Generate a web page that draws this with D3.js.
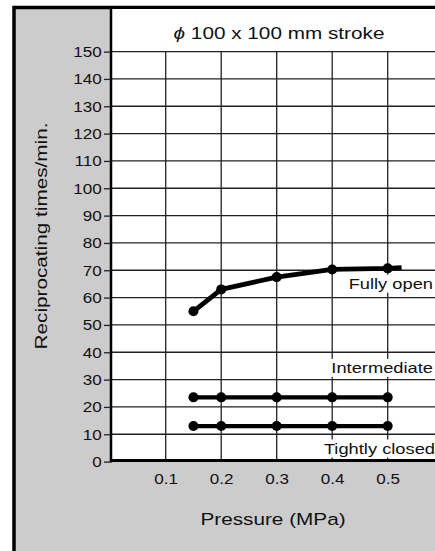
<!DOCTYPE html>
<html>
<head>
<meta charset="utf-8">
<script src="https://cdn.jsdelivr.net/npm/d3@7"></script>
<style>
	body { margin: 0; background: #fff; }
	svg text { font-family: "Liberation Sans", Arial, sans-serif; fill: #111; }
</style>
</head>
<body>
<div id="chart"></div>
<script>
// values
var pressures = [0.15, 0.2, 0.3, 0.4, 0.5];
var fullyOpen = [55, 63, 67.5, 70.3, 70.7];
var intermediate = [23.5, 23.5, 23.5, 23.5, 23.5];
var tightlyClosed = [13, 13, 13, 13, 13];
// the fully open curve runs on a little past its last point
var fullyOpenTailP = [0.525];
var fullyOpenTailV = [71];
var seriesNames = ['Fully open', 'Intermediate', 'Tightly closed'];
var xTicks = [0.1, 0.2, 0.3, 0.4, 0.5];
var yTicks = [0, 10, 20, 30, 40, 50, 60, 70, 80, 90, 100, 110, 120, 130, 140, 150];
var titleSymbol = '\u03D5';
var title = ' 100 x 100 mm stroke';
var xTitle = 'Pressure (MPa)';
var yTitle = 'Reciprocating times/min.';

var width = 435, height = 551;
var SX = 1.22; // the lettering in the picture is wide
var plot = { left: 110, top: 9, bottom: 461.5 };

var svg = d3.select('#chart').append('svg')
	.attr('width', width)
	.attr('height', height);

var xScale = d3.scaleLinear().domain([0, 0.6]).range([110.2, 443.2]);
var yScale = d3.scaleLinear().domain([0, 150]).range([461.6, 51.6]);

// grey frame
svg.append('rect')
	.attr('x', 14).attr('y', 7.5)
	.attr('width', 500).attr('height', 600)
	.attr('fill', '#cccccc')
	.attr('stroke', '#000')
	.attr('stroke-width', 3.5);

// white plot panel
svg.append('rect')
	.attr('x', plot.left).attr('y', plot.top)
	.attr('width', 400).attr('height', plot.bottom - plot.top)
	.attr('fill', '#fff');

// grid
svg.append('g')
	.selectAll('line')
	.data(yTicks.filter(function(d){ return d > 0; }))
	.enter()
	.append('line')
	.attr('x1', plot.left).attr('x2', 450)
	.attr('y1', function(d){ return yScale(d); })
	.attr('y2', function(d){ return yScale(d); })
	.attr('stroke', '#222')
	.attr('stroke-width', 1.3);
svg.append('g')
	.selectAll('line')
	.data(xScale.ticks(6).filter(function(d){ return d > 0; }))
	.enter()
	.append('line')
	.attr('x1', function(d){ return xScale(d); })
	.attr('x2', function(d){ return xScale(d); })
	.attr('y1', yScale(150)).attr('y2', yScale(0))
	.attr('stroke', '#222')
	.attr('stroke-width', 1.3);

// axes
var yAxis = d3.axisLeft(yScale).tickValues(yTicks).tickSize(6).tickSizeOuter(0);
var gy = svg.append('g')
	.attr('transform', 'translate(' + plot.left + ',0)')
	.call(yAxis);
gy.select('.domain').remove();
gy.selectAll('.tick line').attr('stroke', '#222').attr('stroke-width', 1.3);
gy.selectAll('.tick text')
	.attr('x', -8.3 / SX)
	.attr('dy', '0.36em')
	.attr('transform', 'scale(' + SX + ',1)')
	.style('font-size', '14px')
	.style('font-family', '"Liberation Sans", Arial, sans-serif')
	.attr('fill', '#111');

var xAxis = d3.axisBottom(xScale).tickValues(xTicks).tickSize(0).tickFormat(d3.format('.1f'));
var gx = svg.append('g')
	.attr('transform', 'translate(0,' + plot.bottom + ')')
	.call(xAxis);
gx.select('.domain').remove();
gx.selectAll('.tick text')
	.attr('y', 22.5)
	.attr('dy', 0)
	.attr('transform', 'scale(' + SX + ',1)')
	.style('font-size', '14px')
	.style('font-family', '"Liberation Sans", Arial, sans-serif')
	.attr('fill', '#111');

// thick left and bottom edges of the panel
svg.append('line')
	.attr('x1', plot.left + 1).attr('x2', plot.left + 1)
	.attr('y1', plot.top).attr('y2', plot.bottom + 1)
	.attr('stroke', '#000').attr('stroke-width', 2.5);
svg.append('line')
	.attr('x1', plot.left).attr('x2', width)
	.attr('y1', plot.bottom - 1).attr('y2', plot.bottom - 1)
	.attr('stroke', '#000').attr('stroke-width', 2.8);

// series
var linePath = d3.line()
	.x(function(d){ return xScale(d.p); })
	.y(function(d){ return yScale(d.v); });

function toPoints(values) {
	return pressures.map(function(p, i){ return { p: p, v: values[i] }; });
}
var seriesData = [toPoints(fullyOpen), toPoints(intermediate), toPoints(tightlyClosed)];
var tail = fullyOpenTailP.map(function(p, i){ return { p: p, v: fullyOpenTailV[i] }; });

seriesData.forEach(function(pts, k){
	var linePts = k == 0 ? pts.concat(tail) : pts;
	svg.append('path')
		.attr('d', linePath(linePts))
		.attr('fill', 'none')
		.attr('stroke', '#000')
		.attr('stroke-width', k == 0 ? 4.8 : 4.2)
		.attr('stroke-linejoin', 'round');
	svg.append('g')
		.selectAll('circle')
		.data(pts)
		.enter()
		.append('circle')
		.attr('cx', function(d){ return xScale(d.p); })
		.attr('cy', function(d){ return yScale(d.v); })
		.attr('r', 5)
		.attr('fill', '#000');
});

// series labels, with white boxes behind them
var labelBase = [63.1, 32.3, 2.8];
var labelRight = [433, 433, 435];
seriesNames.forEach(function(name, k){
	var g = svg.append('g');
	var t = g.append('text')
		.attr('transform', 'translate(' + labelRight[k] + ',' + yScale(labelBase[k]) + ') scale(' + SX + ',1)')
		.attr('text-anchor', 'end')
		.style('font-size', '15px')
		.text(name);
	var bb = t.node().getBBox();
	g.insert('rect', 'text')
		.attr('x', labelRight[k] - bb.width * SX - 1)
		.attr('y', yScale(labelBase[k]) + bb.y - 1)
		.attr('width', bb.width * SX + 2)
		.attr('height', bb.height + 1)
		.attr('fill', '#fff');
});

// titles
var tt = svg.append('text')
	.attr('transform', 'translate(279,39) scale(' + SX + ',1)')
	.attr('text-anchor', 'middle')
	.style('font-size', '17px');
tt.append('tspan').style('font-style', 'italic').text(titleSymbol);
tt.append('tspan').text(title);
svg.append('text')
	.attr('transform', 'translate(273,525) scale(' + SX + ',1)')
	.attr('text-anchor', 'middle')
	.style('font-size', '17px')
	.text(xTitle);
svg.append('text')
	.attr('transform', 'translate(47,236) rotate(-90) scale(' + SX + ',1)')
	.attr('text-anchor', 'middle')
	.style('font-size', '17px')
	.text(yTitle);
</script>
</body>
</html>
